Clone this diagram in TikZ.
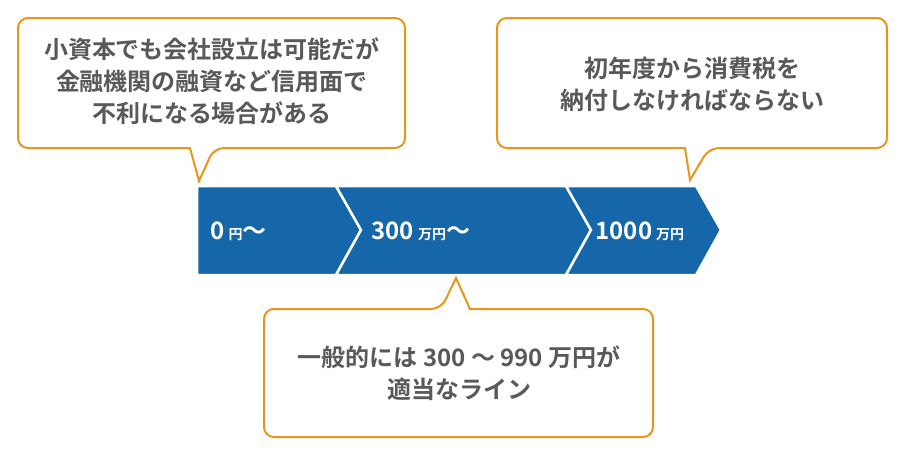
\documentclass[tikz,border=0pt]{standalone}
\usepackage{fontspec}
\newfontfamily\jp{Noto Sans CJK JP Bold}
\definecolor{barblue}{HTML}{1666AA}
\definecolor{org}{HTML}{E8951E}
\definecolor{txt}{HTML}{595959}
\begin{document}
\begin{tikzpicture}[x=1pt,y=-1pt,
  seg/.style={fill=barblue,draw=white,line width=2.5pt,line join=miter},
  bubble/.style={draw=org,line width=2pt,fill=white,rounded corners=10pt},
  btxt/.style={font=\jp\fontsize{24}{32}\selectfont,text=txt,align=center},
  wtxt/.style={font=\jp\fontsize{24}{26}\selectfont,text=white,anchor=west}]
\useasboundingbox (0,0) rectangle (900,450);
\path[seg] (197,186) -- (336,186) -- (361,230) -- (336,275) -- (197,275) -- cycle;
\path[seg] (336,186) -- (566,186) -- (591,230) -- (566,275) -- (336,275) -- (361,230) -- cycle;
\path[seg] (566,186) -- (696,186) -- (721,230) -- (696,275) -- (566,275) -- (591,230) -- cycle;
\node[wtxt] (t1) at (207,231) {0\,{\fontsize{14}{14}\selectfont 円}〜};
\node[wtxt] (t2) at (368,231) {300\,{\fontsize{14}{14}\selectfont 万円}〜};
\node[wtxt] (t3) at (592,231) {1000\,{\fontsize{14}{14}\selectfont 万円}};
\draw[bubble] (190,148) -- (18,148) -- (18,18) -- (405,18) -- (405,148) -- (214,148)
  [sharp corners] -- (199,181) -- (190,148) -- cycle;
\draw[bubble] (685,148) -- (497,148) -- (497,18) -- (887,18) -- (887,148) -- (709,148)
  [sharp corners] -- (690,180) -- (685,148) -- cycle;
\draw[bubble] (470,309) -- (653,309) -- (653,437) -- (264,437) -- (264,309) -- (441,309)
  [sharp corners] -- (456,278) -- (470,309) -- cycle;
\node[btxt] (b1) at (212,81) {小資本でも会社設立は可能だが\\金融機関の融資など信用面で\\不利になる場合がある};
\node[btxt] (b2) at (692,84) {初年度から消費税を\\納付しなければならない};
\node[btxt] (b3) at (459,373) {一般的には 300 〜 990 万円が\\適当なライン};
\end{tikzpicture}
\end{document}
